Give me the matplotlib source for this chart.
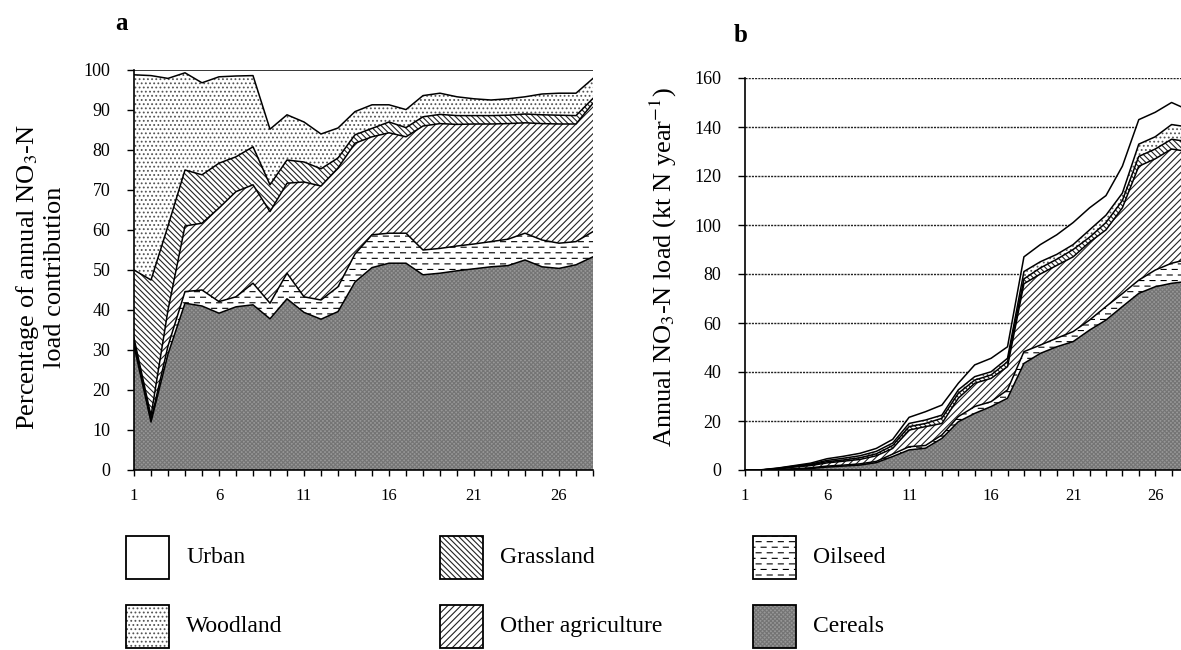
import numpy as np
import matplotlib
matplotlib.use("Agg")
import matplotlib.pyplot as plt
import matplotlib.hatch as mhatch
from matplotlib.patches import Rectangle

# ---------------- data ----------------
years = list(range(1, 29))
xtick_labels = [1, 6, 11, 16, 21, 26]
categories = ["Cereals", "Oilseed", "Other agriculture", "Grassland", "Woodland", "Urban"]

# panel a: percentage of annual NO3-N load contribution
a_cereals = [31.0, 12.0, 29.0, 41.7, 41.0, 39.2, 40.8, 41.3, 37.8, 42.8, 39.4, 37.7, 39.6, 47.0,
             50.6, 51.7, 51.7, 48.8, 49.2, 49.8, 50.3, 50.8, 51.1, 52.5, 50.8, 50.4, 51.3, 53.3]
a_oilseed = [1.0, 0.5, 2.0, 2.9, 4.0, 2.9, 2.5, 5.4, 3.9, 6.4, 3.9, 4.8, 6.2, 7.0,
             8.2, 7.5, 7.5, 6.2, 6.2, 6.2, 6.2, 6.3, 6.6, 6.7, 6.7, 6.3, 5.8, 6.3]
a_other = [1.0, 1.0, 9.0, 16.4, 16.7, 23.4, 26.3, 24.6, 22.9, 22.5, 28.7, 28.5, 29.7, 27.7,
           24.5, 25.1, 24.1, 31.0, 31.2, 30.4, 30.0, 29.4, 28.9, 27.6, 29.1, 29.8, 29.4, 32.1]
a_grass = [17.0, 34.0, 21.0, 14.0, 12.1, 11.2, 8.7, 9.5, 6.7, 5.8, 5.0, 4.3, 2.5, 2.1,
           2.1, 2.7, 2.3, 2.3, 2.3, 2.2, 2.1, 2.1, 2.1, 2.2, 2.2, 2.2, 2.1, 1.2]
a_wood = [48.8, 51.1, 36.9, 24.3, 23.0, 21.6, 20.2, 17.8, 13.9, 11.3, 10.0, 8.7, 7.5, 5.8,
          5.9, 4.3, 4.5, 5.3, 5.3, 4.7, 4.2, 3.9, 4.1, 4.3, 5.2, 5.5, 5.6, 5.0]
a_urban = [1.2, 1.4, 2.1, 0.7, 3.2, 1.7, 1.5, 1.4, 14.8, 11.2, 13.0, 16.0, 14.5, 10.4,
           8.7, 8.7, 9.9, 6.4, 5.8, 6.7, 7.2, 7.5, 7.2, 6.7, 6.0, 5.8, 5.8, 2.1]

# panel b: annual NO3-N load (kt N / year)
b_cereals = [0, 0, 0.1, 0.3, 0.6, 1.2, 1.6, 2.0, 3.0, 5.5, 8.2, 8.9, 12.9, 19.7,
             23.1, 25.9, 29.3, 43.5, 47.6, 50.3, 52.4, 57.1, 61.2, 66.7, 72.1, 74.8, 76.2, 77.0]
b_oilseed = [0, 0, 0.1, 0.2, 0.3, 0.4, 0.4, 0.5, 0.5, 1.0, 1.3, 1.1, 1.4, 2.1,
             2.8, 2.0, 3.4, 4.8, 3.4, 3.5, 4.1, 4.1, 5.5, 5.3, 5.4, 6.8, 8.2, 9.0]
b_other = [0, 0, 0.3, 0.7, 0.9, 1.3, 1.6, 1.8, 2.3, 2.3, 6.8, 7.7, 4.7, 7.5,
           9.5, 9.5, 9.5, 27.7, 29.0, 29.7, 30.5, 31.8, 31.3, 35.0, 46.5, 45.4, 46.6, 44.0]
b_grass = [0, 0, 0.1, 0.2, 0.3, 0.5, 0.5, 0.7, 0.8, 1.2, 1.4, 1.3, 2.1, 2.0,
           1.3, 1.4, 2.0, 2.0, 2.5, 2.5, 3.0, 2.0, 3.0, 3.0, 4.0, 4.0, 4.0, 4.0]
b_wood = [0, 0, 0.1, 0.2, 0.3, 0.5, 0.7, 0.8, 1.0, 1.0, 1.3, 1.4, 1.3, 1.4,
          1.4, 1.3, 1.4, 3.0, 2.5, 2.0, 2.0, 3.0, 3.0, 3.0, 5.0, 5.0, 6.0, 6.0]
b_urban = [0, 0.1, 0.1, 0.2, 0.4, 0.7, 0.8, 1.0, 1.2, 1.5, 2.5, 3.4, 4.1, 2.7,
           4.8, 5.5, 4.7, 6.0, 7.0, 8.0, 9.0, 9.0, 8.0, 11.0, 10.0, 10.0, 9.0, 7.0]

# ---------------- custom dashed hatch (replaces '-' horizontal lines) ----------------
class DashHatch(mhatch.HatchPatternBase):
    def __init__(self, hatch, density):
        self.num_rows = hatch.count('-') * density
        self.ndash = 9
        self.num_vertices = self.num_rows * self.ndash * 2

    def set_vertices_and_codes(self, vertices, codes):
        k = 0
        nd = self.ndash
        for i in range(self.num_rows):
            y = (i + 0.5) / self.num_rows
            off = 0.05 if i % 2 == 0 else 0.5
            for j in range(nd):
                x0 = (j + off) / nd
                x1 = x0 + 0.45 / nd
                vertices[k] = (x0, y)
                vertices[k + 1] = (x1, y)
                codes[k] = 1  # MOVETO
                codes[k + 1] = 2  # LINETO
                k += 2

mhatch._hatch_types = [DashHatch if t is mhatch.HorizontalHatch else t
                       for t in mhatch._hatch_types]

plt.rcParams['font.family'] = ['Liberation Serif', 'DejaVu Serif']
plt.rcParams['mathtext.fontset'] = 'stix'
plt.rcParams['hatch.linewidth'] = 0.8

styles = {
    "Cereals": dict(facecolor="#979797", edgecolor="#747474", hatch="xxxxxxxx"),
    "Oilseed": dict(facecolor="white", edgecolor="black", hatch="---"),
    "Other agriculture": dict(facecolor="white", edgecolor="#222222", hatch="/////"),
    "Grassland": dict(facecolor="white", edgecolor="#222222", hatch="\\\\\\\\\\\\"),
    "Woodland": dict(facecolor="white", edgecolor="#555555", hatch="...."),
    "Urban": dict(facecolor="white", edgecolor="black", hatch=None),
}

W, H = 1181, 650
fig = plt.figure(figsize=(W / 100, H / 100), dpi=100)


def px_box(x0, x1, y_top, y_bot):
    return [x0 / W, 1 - y_bot / H, (x1 - x0) / W, (y_bot - y_top) / H]


def draw_stack(ax, layers):
    x = np.array(years)
    lower = np.zeros(len(years))
    for name, vals in zip(categories, layers):
        upper = lower + np.array(vals)
        st = styles[name]
        ax.fill_between(x, lower, upper, facecolor=st["facecolor"], edgecolor=st["edgecolor"],
                        hatch=st["hatch"], linewidth=0, zorder=2)
        ax.plot(x, upper, color="black", lw=1.1, zorder=3)
        lower = upper


# ---------------- panel a ----------------
axa = fig.add_axes(px_box(134, 593, 70, 470))
draw_stack(axa, [a_cereals, a_oilseed, a_other, a_grass, a_wood, a_urban])
axa.set_xlim(1, 28)
axa.set_ylim(0, 100)
axa.set_yticks(range(0, 101, 10))
axa.set_xticks(years)
axa.set_xticklabels([str(v) if v in xtick_labels else "" for v in years])
for s in ["top", "right"]:
    axa.spines[s].set_visible(False)
for s in ["left", "bottom"]:
    axa.spines[s].set_linewidth(1.2)
axa.tick_params(axis="y", direction="out", length=5, width=1, labelsize=13, pad=12)
axa.tick_params(axis="x", direction="out", length=4, width=1, labelsize=12, pad=9)
fig.text(40 / W, 1 - 277 / H, "Percentage of annual NO$_3$-N\nload contribution",
         rotation=90, ha="center", va="center", fontsize=19, multialignment="center",
         linespacing=1.15)
fig.text(122 / W, 1 - 24 / H, "a", fontsize=18, fontweight="bold", ha="center", va="center")

# ---------------- panel b ----------------
axb = fig.add_axes(px_box(745, 1188, 78, 470))
draw_stack(axb, [b_cereals, b_oilseed, b_other, b_grass, b_wood, b_urban])
axb.set_xlim(1, 28)
axb.set_ylim(0, 160)
axb.set_yticks(range(0, 161, 20))
axb.set_xticks(years)
axb.set_xticklabels([str(v) if v in xtick_labels else "" for v in years])
axb.set_axisbelow(True)
axb.yaxis.grid(True, linestyle=(0, (1.5, 0.8)), color="#222222", lw=1.0, zorder=0)
for s in ["top", "right"]:
    axb.spines[s].set_visible(False)
for s in ["left", "bottom"]:
    axb.spines[s].set_linewidth(1.2)
axb.tick_params(axis="y", direction="out", length=5, width=1, labelsize=13, pad=12)
axb.tick_params(axis="x", direction="out", length=4, width=1, labelsize=12, pad=9)
fig.text(663 / W, 1 - 267 / H, "Annual NO$_3$-N load (kt N year$^{-1}$)",
         rotation=90, ha="center", va="center", fontsize=19)
fig.text(741 / W, 1 - 36 / H, "b", fontsize=18, fontweight="bold", ha="center", va="center")

# ---------------- legend ----------------
legend_items = [
    ("Urban", 126, 536), ("Woodland", 126, 605),
    ("Grassland", 440, 536), ("Other agriculture", 440, 605),
    ("Oilseed", 753, 536), ("Cereals", 753, 605),
]
bw, bh = 43, 43
for name, lx, ly in legend_items:
    st = styles[name]
    r = Rectangle((lx / W, 1 - (ly + bh) / H), bw / W, bh / H, transform=fig.transFigure,
                  facecolor=st["facecolor"], edgecolor=st["edgecolor"], hatch=st["hatch"],
                  linewidth=0)
    fig.add_artist(r)
    r2 = Rectangle((lx / W, 1 - (ly + bh) / H), bw / W, bh / H, transform=fig.transFigure,
                   facecolor="none", edgecolor="black", linewidth=1.3)
    fig.add_artist(r2)
    fig.text((lx + 60) / W, 1 - (ly + bh / 2) / H, name, fontsize=17, ha="left", va="center")

fig.savefig("out.png", dpi=100)
